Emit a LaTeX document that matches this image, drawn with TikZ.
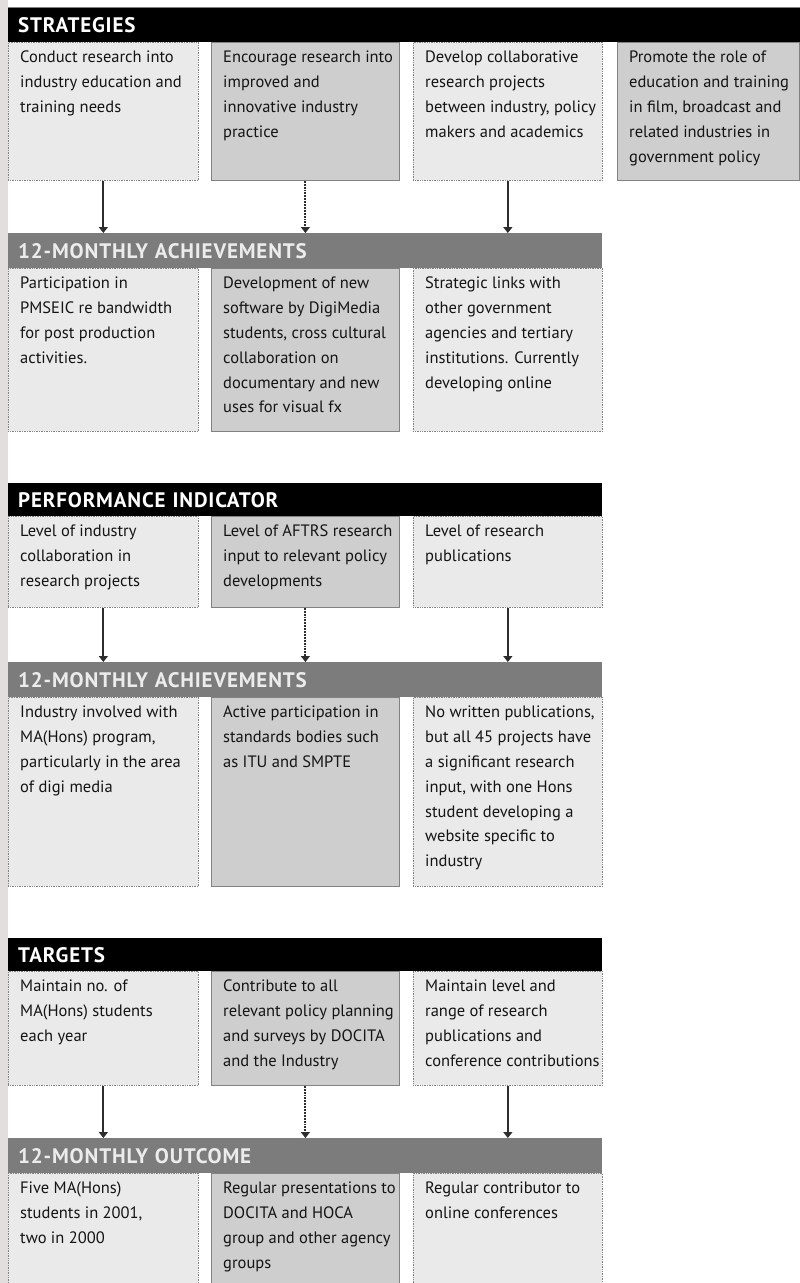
\documentclass[tikz,border=0pt]{standalone}
\usepackage{fontspec}
\setmainfont{PT Sans}
\newfontfamily\bodyfont{PT Sans}
\newfontfamily\headfont{PT Sans}[LetterSpace=4]
\usetikzlibrary{arrows.meta}

\definecolor{strip}{RGB}{226,222,222}
\definecolor{lightbox}{RGB}{234,234,234}
\definecolor{midbox}{RGB}{206,206,206}
\definecolor{greybar}{RGB}{124,124,124}
\definecolor{edge}{RGB}{130,130,130}
\definecolor{ink}{RGB}{20,20,20}
\definecolor{arrowink}{RGB}{45,45,45}

\tikzset{
  hdrbar/.style={anchor=north west, inner xsep=10pt, inner ysep=0pt, align=left,
    minimum height=35pt, font=\headfont\bfseries\fontsize{21}{21}\selectfont},
  blackbar/.style={hdrbar, fill=black, text=white},
  greyhdr/.style={hdrbar, fill=greybar, text={rgb,255:red,236;green,236;blue,236}},
  lightcell/.style={anchor=north west, inner sep=0pt, fill=lightbox, draw=edge, densely dotted, line width=0.7pt},
  midcell/.style={anchor=north west, inner sep=0pt, fill=midbox, draw=edge, line width=0.8pt},
  celltext/.style={anchor=north west, inner sep=0pt, align=left, text=ink,
    font=\bodyfont\fontsize{16.5}{24.8}\selectfont},
  flow/.style={draw=arrowink, line width=1.9pt, -{Triangle[width=9pt,length=6pt]}},
  dotflow/.style={flow, densely dotted}
}

% box (name, x, y, width, height, style, text)
\newcommand\cellbox[7]{%
  \node[#6, minimum width=#4pt, minimum height=#5pt] (#1) at (#2,#3) {};
  \node[celltext] (#1t) at ([xshift=12pt,yshift=-9pt]#1.north west) {#7};
}

\begin{document}
\begin{tikzpicture}[x=1pt,y=-1pt]
\useasboundingbox (0,0) rectangle (800,1283);
\fill[white] (0,0) rectangle (800,1283);
\fill[strip] (0,0) rectangle (8,1283);

% ---------- Strategies ----------
\node[blackbar, text width=772pt] (h1) at (8,7) {STRATEGIES};
\draw[gray, line width=0.6pt] (h1.north west) -- (h1.north east);
\cellbox{s1}{8}{42}{190}{138}{lightcell}{Conduct research into\\industry education and\\training needs}
\cellbox{s2}{211}{42}{188}{138}{midcell}{Encourage research into\\improved and\\innovative industry\\practice}
\cellbox{s3}{413}{42}{189}{138}{lightcell}{Develop collaborative\\research projects\\between industry, policy\\makers and academics}
\cellbox{s4}{617}{42}{182}{138}{midcell}{Promote the role of\\education and training\\in film, broadcast and\\related industries in\\government policy}

\node[greyhdr, text width=574pt] (h2) at (8,233) {12-MONTHLY ACHIEVEMENTS};
\cellbox{a1}{8}{268}{190}{163}{lightcell}{Participation in\\PMSEIC re bandwidth\\for post production\\activities.}
\cellbox{a2}{211}{268}{188}{163}{midcell}{Development of new\\software by DigiMedia\\students, cross cultural\\collaboration on\\documentary and new\\uses for visual fx}
\cellbox{a3}{413}{268}{189}{163}{lightcell}{Strategic links with\\other government\\agencies and tertiary\\institutions. Currently\\developing online}

\draw[flow] (s1.south) -- (s1.south |- h2.north);
\draw[dotflow] (s2.south) -- (s2.south |- h2.north);
\draw[flow] (s3.south) -- (s3.south |- h2.north);

% ---------- Performance indicator ----------
\node[blackbar, text width=574pt, minimum height=33pt] (h3) at (8,483) {PERFORMANCE INDICATOR};
\cellbox{p1}{8}{516}{190}{91}{lightcell}{Level of industry\\collaboration in\\research projects}
\cellbox{p2}{211}{516}{188}{91}{midcell}{Level of AFTRS research\\input to relevant policy\\developments}
\cellbox{p3}{413}{516}{189}{91}{lightcell}{Level of research\\publications}

\node[greyhdr, text width=574pt] (h4) at (8,662) {12-MONTHLY ACHIEVEMENTS};
\cellbox{b1}{8}{697}{190}{189}{lightcell}{Industry involved with\\MA(Hons) program,\\particularly in the area\\of digi media}
\cellbox{b2}{211}{697}{188}{189}{midcell}{Active participation in\\standards bodies such\\as ITU and SMPTE}
\cellbox{b3}{413}{697}{189}{189}{lightcell}{No written publications,\\but all 45 projects have\\a significant research\\input, with one Hons\\student developing a\\website specific to\\industry}

\draw[flow] (p1.south) -- (p1.south |- h4.north);
\draw[dotflow] (p2.south) -- (p2.south |- h4.north);
\draw[flow] (p3.south) -- (p3.south |- h4.north);

% ---------- Targets ----------
\node[blackbar, text width=574pt, minimum height=33pt] (h5) at (8,938) {TARGETS};
\cellbox{t1}{8}{971}{190}{114}{lightcell}{Maintain no. of\\MA(Hons) students\\each year}
\cellbox{t2}{211}{971}{188}{114}{midcell}{Contribute to all\\relevant policy planning\\and surveys by DOCITA\\and the Industry}
\cellbox{t3}{413}{971}{189}{114}{lightcell}{Maintain level and\\range of research\\publications and\\conference contributions}

\node[greyhdr, text width=574pt] (h6) at (8,1138) {12-MONTHLY OUTCOME};
\cellbox{o1}{8}{1173}{190}{120}{lightcell}{Five MA(Hons)\\students in 2001,\\two in 2000}
\cellbox{o2}{211}{1173}{188}{120}{midcell}{Regular presentations to\\DOCITA and HOCA\\group and other agency\\groups}
\cellbox{o3}{413}{1173}{189}{120}{lightcell}{Regular contributor to\\online conferences}

\draw[flow] (t1.south) -- (t1.south |- h6.north);
\draw[dotflow] (t2.south) -- (t2.south |- h6.north);
\draw[flow] (t3.south) -- (t3.south |- h6.north);
\end{tikzpicture}
\end{document}
